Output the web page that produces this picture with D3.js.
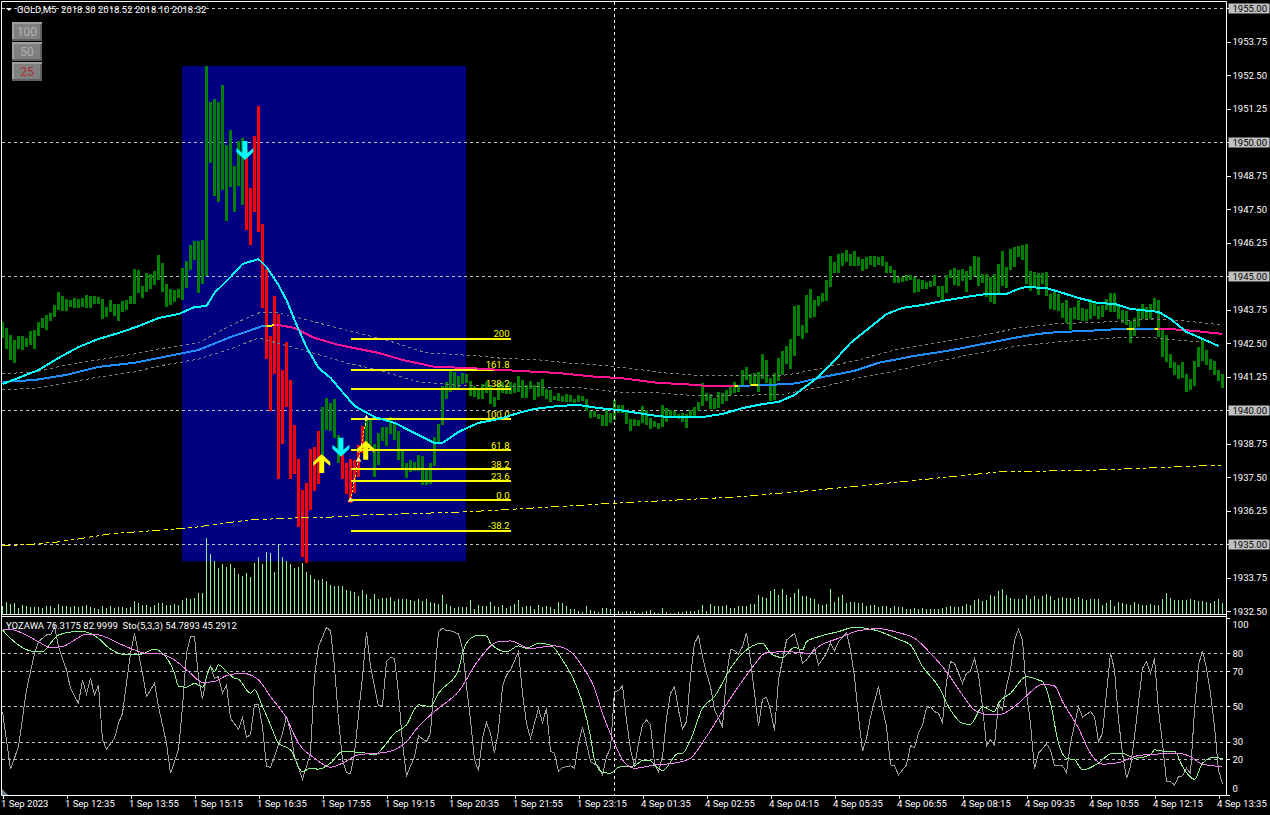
<!DOCTYPE html>
<html>
<head>
<meta charset="utf-8">
<script src="https://cdnjs.cloudflare.com/ajax/libs/d3/7.8.5/d3.min.js"></script>
<style>
body{margin:0;background:#000;overflow:hidden}
svg{display:block}
text{font-family:Roboto,"Liberation Sans",sans-serif;font-size:9.5px}
</style>
</head>
<body>
<svg id="c" width="1270" height="815"></svg>
<script>
//////////////////////////////////////////////////////////////// data
var title='GOLD,M5  2018.30 2018.52 2018.10 2018.32';
var subTitle='YOZAWA 76.3175 82.9999  Sto(5,3,3) 54.7893 45.2912';
var timeLabels=['1 Sep 2023','1 Sep 12:35','1 Sep 13:55','1 Sep 15:15','1 Sep 16:35','1 Sep 17:55','1 Sep 19:15','1 Sep 20:35','1 Sep 21:55','1 Sep 23:15','4 Sep 01:35','4 Sep 02:55','4 Sep 04:15','4 Sep 05:35','4 Sep 06:55','4 Sep 08:15','4 Sep 09:35','4 Sep 10:55','4 Sep 12:15','4 Sep 13:35'];
var timeBars=[0,16,32,48,64,80,96,112,128,144,160,176,192,208,224,240,256,272,288,304];
var priceTicks=[1955,1953.75,1952.5,1951.25,1950,1948.75,1947.5,1946.25,1945,1943.75,1942.5,1941.25,1940,1938.75,1937.5,1936.25,1935,1933.75,1932.5];
var priceGrid=[1955,1950,1945,1940,1935];
var subTicks=[100,80,70,50,30,20,0];
var subGrid=[80,70,50,30,20];
var buttons=['100','50','25'];
var crossBar=153;

var barHigh=[
1943.28,1943.06,1942.80,1942.61,1942.76,1942.76,1942.69,1942.95,1942.99,1943.28,
1943.43,1943.55,1943.62,1943.92,1944.40,1944.25,1944.14,1944.10,1944.18,1944.14,
1944.18,1944.29,1944.25,1944.25,1944.22,1944.14,1943.84,1944.10,1943.96,1943.96,
1944.07,1944.10,1944.25,1945.26,1945.22,1944.63,1945.11,1945.07,1945.19,1945.78,
1945.48,1944.70,1944.52,1944.48,1944.52,1945.30,1945.56,1946.16,1946.31,1946.31,
1946.34,1952.83,1951.49,1951.60,1951.49,1952.12,1949.89,1950.45,1949.11,1950.04,
1950.15,1949.70,1948.28,1950.22,1951.34,1946.94,1945.26,1942.76,1944.25,1943.58,
1941.49,1942.54,1941.12,1939.44,1938.17,1937.02,1937.28,1938.55,1938.62,1939.22,
1940.11,1940.45,1940.26,1940.41,1939.07,1938.32,1938.02,1938.17,1938.14,1938.70,
1939.41,1939.63,1939.63,1938.73,1939.14,1939.37,1939.37,1939.74,1939.52,1939.22,
1938.47,1938.02,1938.14,1938.06,1938.32,1938.29,1937.80,1938.02,1938.99,1939.48,
1940.90,1941.05,1941.46,1941.42,1941.27,1941.38,1941.34,1941.08,1940.90,1940.82,
1940.97,1941.05,1940.93,1940.49,1940.97,1941.05,1940.93,1941.05,1941.01,1941.27,
1941.12,1940.93,1941.08,1940.93,1941.05,1941.16,1940.79,1940.75,1940.52,1940.64,
1940.52,1940.60,1940.56,1940.41,1940.56,1940.52,1940.41,1939.96,1939.96,1939.85,
1939.81,1940.04,1939.89,1940.37,1940.19,1940.19,1939.93,1939.66,1939.66,1939.63,
1940.15,1940.00,1939.70,1939.59,1939.52,1940.19,1940.07,1940.00,1939.96,1939.85,
1939.89,1939.85,1940.00,1940.11,1940.30,1941.01,1940.64,1940.60,1940.45,1940.67,
1940.64,1940.75,1940.86,1941.05,1940.90,1941.49,1941.61,1941.34,1941.38,1941.42,
1942.09,1941.87,1941.20,1941.38,1941.94,1942.20,1942.39,1942.65,1943.88,1943.92,
1943.17,1944.29,1944.52,1944.10,1944.25,1944.37,1944.85,1945.75,1945.52,1945.82,
1945.86,1945.97,1945.82,1945.93,1945.71,1945.63,1945.71,1945.75,1945.75,1945.71,
1945.75,1945.52,1945.37,1945.22,1944.96,1944.96,1945.04,1945.04,1944.96,1944.89,
1944.85,1944.78,1944.81,1945.04,1944.63,1944.63,1945.04,1945.22,1945.30,1945.22,
1945.26,1945.19,1945.37,1945.75,1945.71,1945.07,1945.07,1944.96,1945.07,1945.45,
1945.93,1945.34,1946.01,1946.08,1946.12,1946.16,1946.19,1945.19,1945.15,1945.11,
1945.11,1945.15,1944.33,1944.40,1944.33,1943.99,1944.10,1943.81,1943.84,1944.10,
1943.81,1943.77,1944.14,1944.03,1943.88,1943.92,1944.14,1944.37,1944.37,1943.88,
1943.73,1943.69,1943.32,1943.43,1943.81,1943.96,1943.84,1943.96,1944.18,1944.10,
1942.99,1942.80,1942.09,1941.79,1941.68,1941.79,1941.34,1941.16,1941.83,1942.35,
1942.61,1942.24,1941.90,1941.83,1941.49,1941.34];
var barLow=[
1942.69,1942.28,1941.87,1941.76,1942.28,1942.24,1942.35,1942.43,1942.28,1942.76,
1943.06,1942.99,1943.32,1943.47,1943.73,1943.69,1943.69,1943.84,1943.81,1943.81,
1943.84,1943.81,1943.81,1943.96,1943.96,1943.40,1943.47,1943.66,1943.51,1943.32,
1943.66,1943.73,1943.96,1943.96,1944.37,1944.18,1944.40,1944.52,1944.66,1944.85,
1944.40,1943.84,1943.92,1944.03,1944.18,1944.10,1944.55,1945.22,1945.60,1944.37,
1944.70,1945.00,1949.22,1947.98,1947.76,1948.21,1947.05,1948.32,1947.39,1948.36,
1947.65,1946.72,1946.16,1947.39,1946.64,1943.81,1941.90,1939.96,1941.34,1937.43,
1938.73,1940.11,1937.43,1937.61,1935.64,1934.52,1934.29,1936.27,1936.98,1937.24,
1938.32,1939.26,1939.22,1938.96,1938.02,1937.43,1936.87,1936.53,1936.90,1937.50,
1938.40,1938.51,1938.70,1937.50,1937.95,1938.85,1938.66,1939.11,1938.88,1938.14,
1937.84,1937.47,1937.69,1937.72,1937.72,1937.20,1937.20,1937.24,1937.91,1938.77,
1939.44,1940.41,1940.67,1940.82,1940.79,1940.97,1941.01,1940.52,1940.49,1940.41,
1940.41,1940.64,1940.22,1940.11,1940.37,1940.64,1940.60,1940.60,1940.64,1940.67,
1940.45,1940.45,1940.79,1940.37,1940.49,1940.52,1940.41,1940.30,1940.37,1940.34,
1940.30,1940.30,1940.30,1940.26,1940.30,1940.34,1939.96,1939.70,1939.74,1939.66,
1939.41,1939.41,1939.52,1939.63,1939.89,1939.89,1939.48,1939.22,1939.41,1939.41,
1939.52,1939.44,1939.29,1939.37,1939.29,1939.37,1939.55,1939.70,1939.74,1939.66,
1939.55,1939.33,1939.70,1939.74,1939.96,1940.15,1940.34,1940.04,1940.04,1940.07,
1940.22,1940.34,1940.56,1940.64,1940.67,1940.86,1941.12,1940.97,1940.93,1940.67,
1941.16,1941.01,1940.34,1940.37,1941.08,1941.31,1941.72,1941.53,1942.02,1942.76,
1942.65,1942.87,1943.43,1943.47,1943.88,1944.03,1944.07,1944.59,1945.11,1945.11,
1945.37,1945.52,1945.37,1945.37,1945.37,1945.19,1945.26,1945.41,1945.34,1945.41,
1945.37,1945.11,1945.11,1944.74,1944.74,1944.78,1944.81,1944.85,1944.37,1944.40,
1944.52,1944.52,1944.59,1944.63,1944.22,1944.10,1944.37,1944.93,1944.66,1944.63,
1944.81,1944.40,1944.85,1945.00,1944.63,1944.74,1944.22,1944.03,1943.96,1944.33,
1944.63,1944.55,1945.22,1945.34,1945.71,1945.60,1944.70,1944.44,1944.55,1944.29,
1944.70,1944.25,1943.77,1943.73,1943.69,1943.43,1943.25,1942.99,1943.40,1943.36,
1943.32,1943.32,1943.40,1943.51,1943.40,1943.47,1943.73,1943.66,1943.66,1943.40,
1943.25,1943.17,1942.50,1942.76,1943.10,1943.40,1943.40,1943.40,1943.73,1942.72,
1941.98,1941.79,1941.57,1941.31,1941.16,1941.20,1940.67,1940.75,1940.90,1941.61,
1941.83,1941.68,1941.49,1941.31,1941.08,1940.82];
var redBars=[[61,79],[85,90]];

var volumes=[
8,12,10,11,6,9,8,7,7,7,6,8,8,6,10,8,8,7,8,7,
8,9,7,6,5,8,6,8,6,7,7,6,7,13,11,9,9,7,9,11,
11,9,9,10,9,14,16,15,16,21,21,76,60,53,46,50,47,50,46,40,
38,41,37,51,57,50,62,61,42,70,57,53,50,46,47,51,42,39,35,34,
35,33,29,28,28,28,24,23,22,18,24,20,15,20,15,16,16,17,13,15,
15,15,14,13,15,13,15,12,11,10,19,10,8,6,7,7,7,
14,5,9,8,8,12,8,7,9,6,8,10,14,7,8,8,5,9,7,8,
7,5,12,11,8,5,5,3,2,8,4,3,2,6,6,5,4,3,2,3,
3,3,1,2,3,4,2,1,6,2,1,1,2,2,3,3,3,4,9,3,
10,8,8,8,9,6,6,8,8,8,10,10,19,17,16,23,25,19,25,19,
17,21,25,18,18,16,15,10,9,10,25,12,17,19,11,12,12,11,11,8,
9,9,7,8,8,6,8,7,7,5,5,6,5,6,5,5,5,5,6,7,
8,7,7,8,10,9,14,15,13,14,19,18,23,25,19,16,15,15,15,19,
15,18,15,18,20,18,14,16,17,16,16,15,17,15,14,15,15,15,9,11,
14,8,12,11,10,9,12,10,9,9,10,9,9,15,21,16,14,14,14,14,
15,14,13,13,12,11,13,15,11];

var fastMa=[[0,1940.97],[4,1941.20],[9,1941.49],[14,1941.94],[19,1942.35],[24,1942.65],[29,1942.87],[34,1943.13],[39,1943.43],[44,1943.58],[48,1943.84],[51,1943.88],[53,1944.37],[57,1944.96],[60,1945.45],[64,1945.63],[66,1945.34],[69,1944.66],[71,1944.10],[73,1943.36],[76,1942.35],[79,1941.57],[82,1941.20],[85,1940.67],[88,1940.15],[93,1939.74],[98,1939.52],[104,1939.07],[108,1938.77],[110,1938.77],[114,1939.18],[119,1939.52],[124,1939.66],[129,1939.89],[133,1940.04],[139,1940.15],[144,1940.19],[149,1940.07],[154,1940.00],[157,1939.93],[162,1939.81],[166,1939.74],[175,1939.74],[180,1939.85],[185,1940.07],[190,1940.22],[194,1940.30],[198,1940.56],[203,1941.12],[207,1941.68],[212,1942.50],[217,1943.10],[221,1943.58],[225,1943.81],[230,1943.92],[235,1944.07],[241,1944.22],[246,1944.33],[251,1944.33],[254,1944.52],[256,1944.59],[261,1944.55],[265,1944.37],[269,1944.18],[274,1943.99],[278,1943.96],[282,1943.77],[289,1943.66],[292,1943.40],[296,1942.91],[299,1942.72],[304,1942.39]];
var slowMa=[[0,1941.05],[8,1941.12],[16,1941.31],[24,1941.61],[33,1941.76],[39,1941.94],[49,1942.24],[57,1942.72],[65,1943.13],[69,1943.17],[73,1943.06],[78,1942.69],[84,1942.43],[94,1942.13],[100,1941.87],[108,1941.61],[116,1941.57],[129,1941.46],[139,1941.38],[149,1941.23],[154,1941.20],[164,1941.01],[170,1940.97],[176,1940.90],[184,1940.90],[190,1940.93],[197,1940.97],[199,1941.01],[205,1941.23],[213,1941.46],[219,1941.76],[228,1942.02],[236,1942.20],[244,1942.43],[254,1942.72],[259,1942.84],[264,1942.91],[271,1942.95],[279,1943.02],[288,1943.02],[292,1943.02],[298,1942.95],[305,1942.84]];
var slowMaColors=[[0,66,'#1e90ff'],[66,68,'#ffff00'],[68,183,'#ff1493'],[183,184,'#ffff00'],[184,187,'#1e90ff'],[187,189,'#ffff00'],[189,281,'#1e90ff'],[281,283,'#ffff00'],[283,288,'#1e90ff'],[288,289,'#ffff00'],[289,305,'#ff1493']];
var upperBand=[[0,1941.35],[8,1941.42],[16,1941.68],[24,1941.87],[33,1942.09],[39,1942.28],[49,1942.50],[55,1943.0],[61,1943.43],[64,1943.62],[69,1943.62],[76,1943.36],[89,1942.87],[96,1942.61],[106,1942.13],[119,1942.02],[124,1941.94],[134,1941.87],[141,1941.76],[149,1941.68],[158,1941.53],[166,1941.38],[175,1941.27],[184,1941.27],[194,1941.27],[199,1941.38],[205,1941.57],[214,1941.87],[223,1942.24],[233,1942.50],[244,1942.76],[254,1943.06],[263,1943.21],[275,1943.28],[288,1943.40],[296,1943.32],[305,1943.17]];
var lowerBand=[[0,1940.75],[8,1940.82],[16,1941.01],[24,1941.23],[33,1941.42],[39,1941.64],[49,1941.90],[57,1942.28],[64,1942.69],[75,1942.24],[86,1941.76],[94,1941.49],[104,1941.05],[113,1940.93],[124,1940.90],[134,1940.86],[145,1940.82],[154,1940.67],[162,1940.67],[171,1940.56],[179,1940.52],[188,1940.56],[194,1940.56],[205,1940.86],[214,1941.20],[222,1941.42],[233,1941.79],[244,1942.13],[254,1942.39],[264,1942.54],[278,1942.69],[288,1942.69],[299,1942.54]];
var longMa=[[0,1934.93],[8,1935.00],[14,1935.08],[19,1935.19],[27,1935.38],[33,1935.45],[41,1935.53],[49,1935.64],[56,1935.79],[62,1935.90],[73,1935.97],[83,1936.01],[91,1936.09],[99,1936.12],[108,1936.16],[116,1936.20],[129,1936.31],[154,1936.53],[184,1936.76],[212,1937.13],[249,1937.69],[274,1937.76],[305,1937.95]];

var fibLow=1936.64, fibHigh=1939.65, fibFrom=87, fibTo=127;
var fibLevels=[200,161.8,138.2,100,61.8,38.2,23.6,0,-38.2];
var fibNames=['200','161.8','138.2','100.0','61.8','38.2','23.6','0.0','-38.2'];
var fibTrend=[[87,1936.64],[89,1938.14],[91,1939.70]];
var zoneBars=[45,115.9], zonePrices=[1952.83,1934.35];
var upArrows=[[79.8,1938.36],[90.8,1938.85]];
var downArrows=[[60.6,1950.04],[84.6,1938.96]];

var yozawa=[[0,47],[2,14.4],[4,27.2],[6,59.3],[7,69.6],[8,80],[9,86.6],[11,90.4],[12,90.4],[13,95.1],[14,83.8],[16,70.6],[17,60.2],[19,51.7],[20,64.9],[21,57],[22,65.9],[23,56.4],[24,62.1],[25,31],[26,25.7],[28,31.9],[29,40.4],[30,46],[32,80],[33,91.3],[35,68.7],[36,55.5],[38,63],[39,49.8],[41,29.1],[42,12.1],[44,25.3],[45,49.8],[46,80],[47,89.4],[48,89.4],[49,66.8],[50,54],[51,66.8],[52,72.5],[53,65.9],[54,66.8],[55,57.4],[56,62.1],[57,43.2],[59,37],[60,43.8],[61,32.5],[62,33.8],[63,51.2],[64,50.8],[65,38.5],[66,15.9],[67,15.5],[68,21.5],[70,34.7],[71,44.2],[72,35.7],[73,21.5],[75,8.7],[77,23.4],[78,66.8],[79,83.8],[81,94.7],[82,92.8],[83,72.5],[84,42.3],[85,19.7],[86,12.5],[87,11.7],[88,23.4],[90,66.8],[91,92.3],[92,72.5],[94,50.2],[95,50.2],[96,75.3],[97,77.7],[98,77.2],[99,57.4],[100,29.1],[101,10.6],[103,21.5],[104,33.2],[106,30],[107,34.7],[108,66.8],[109,92.3],[110,94.2],[111,92.8],[112,92.8],[114,91],[115,82.8],[116,61.2],[117,42.3],[118,19.7],[119,13.6],[120,31.9],[121,40.8],[122,34.7],[123,23.4],[124,36.6],[125,61.2],[126,67.7],[127,70.6],[129,80.9],[130,57.4],[131,40.4],[132,31.9],[133,40.4],[134,48.9],[135,40.8],[136,48.9],[137,24.4],[138,23.4],[139,13],[140,15.3],[142,16.3],[143,14.9],[144,29.1],[145,38.1],[146,29.1],[147,18.7],[149,15.9],[150,11.2],[151,21.5],[152,26.3],[153,58.3],[154,58.9],[155,61.7],[156,42.3],[157,25.3],[158,15.9],[159,29.1],[160,39.5],[161,42.3],[162,39.5],[163,17.8],[164,12.7],[165,21.5],[166,43.2],[167,57.4],[168,61.2],[169,47.9],[170,37],[171,41.3],[172,66.8],[173,85.7],[174,90],[175,78.1],[176,68.7],[177,61.2],[178,47.9],[180,38.5],[181,66.8],[182,82.3],[183,81.5],[184,79.6],[185,83.8],[186,91.7],[187,76.2],[188,57.4],[189,38.9],[190,54],[191,55.1],[192,47.9],[193,36.2],[194,64.9],[195,76.2],[196,87.5],[198,91.3],[199,83.8],[200,74.4],[201,76.2],[203,82.8],[204,73.4],[206,80],[207,85.7],[208,81.5],[209,86.6],[211,91.7],[212,81.9],[213,66.8],[214,44.2],[215,24.6],[216,31.9],[217,44.2],[219,61.2],[220,48.9],[221,38.5],[222,16.8],[223,16.3],[224,11.2],[226,16.8],[227,27.8],[228,26.6],[229,34.7],[230,39.5],[231,48.9],[232,49.8],[233,47],[234,46],[235,40.8],[236,64],[237,75.3],[238,74.4],[240,63],[241,68.7],[242,70.2],[243,77.2],[244,67.7],[245,49.8],[246,27.6],[247,31],[248,28.1],[249,51.7],[250,47.9],[251,61.2],[252,70.6],[253,87.5],[254,93.6],[255,87.5],[256,57.4],[257,40.4],[258,14.4],[259,23.4],[261,28.7],[262,25.3],[263,16.3],[265,16.3],[266,12.5],[267,29.1],[269,49.8],[270,43.8],[272,47],[273,44.2],[274,30],[275,34.7],[276,57.4],[277,80.4],[278,70.6],[279,42.3],[280,23.4],[281,9.3],[282,15.9],[283,32.9],[285,71.5],[286,75.3],[287,68.7],[288,77.2],[289,47.9],[290,29.1],[291,7.4],[292,7.4],[293,5.5],[294,10.2],[295,10.6],[296,14.9],[297,12.1],[298,47.9],[299,73.4],[300,81.5],[301,71.5],[302,57.4],[303,38.5],[304,14],[305,6]];
var stochMain=[[0,93.2],[2,88.5],[4,84.7],[8,81],[10,81],[12,85.7],[14,90.4],[18,92.3],[20,92.3],[24,88.5],[26,84.2],[30,79.4],[34,79.1],[38,82.3],[40,80],[43,68.7],[44,61.5],[46,60.8],[48,63],[50,60.8],[52,72.5],[53,69.6],[54,73.4],[56,69.6],[58,65.9],[59,65.3],[62,57.4],[63,59.3],[65,49.8],[67,39.5],[69,29.1],[72,25.3],[75,13],[77,14.9],[79,14.4],[82,17.8],[85,24.4],[90,23.8],[93,22.5],[95,26.3],[98,34.7],[101,39.5],[104,50.8],[107,49.8],[109,57.4],[114,70.6],[115,80],[117,88.5],[119,90.2],[121,89.8],[122,85.7],[126,80.9],[129,84.2],[131,82.8],[134,85.7],[137,84.7],[140,76.2],[143,64],[145,51.7],[147,32.9],[148,19.7],[150,12.7],[152,12.1],[154,15.5],[158,16.3],[160,19.3],[162,19.3],[163,16.8],[165,13.6],[169,23.4],[170,23.4],[172,31],[175,48.9],[178,55.5],[182,71.5],[185,80],[190,85.7],[192,80],[195,77.6],[198,83.4],[200,81.9],[201,86.6],[204,89.4],[209,92.3],[213,94.7],[218,93.2],[224,87.9],[227,84.7],[230,72.5],[234,61.2],[237,47.9],[240,40.4],[242,39.8],[245,49.8],[248,47],[249,51.7],[252,57.4],[256,66.8],[259,64.9],[260,64],[262,51.7],[264,29.1],[266,20.6],[268,19.7],[270,14],[274,17.8],[277,23],[280,23.4],[283,20.6],[287,22.5],[288,25.3],[291,24.4],[293,24.4],[295,15.9],[298,8.7],[300,17.8],[303,21.2],[305,20.2]];
var stochSignal=[[0,93.6],[2,93.6],[5,91.3],[9,86.6],[12,83.2],[15,83.8],[18,87.5],[21,90.8],[24,90.4],[29,85.7],[33,81.9],[36,80],[39,80],[43,76.2],[47,68.7],[50,63.6],[53,64],[56,67.4],[60,68.7],[64,64.9],[67,55.5],[71,43.2],[74,29.1],[78,20.6],[82,15.5],[85,17.8],[89,22.5],[96,24],[101,30],[104,38.5],[109,48.9],[114,58.3],[119,76.2],[124,86.6],[127,87],[132,82.8],[138,84.2],[142,80.9],[145,72.5],[148,60.2],[150,46],[153,29.1],[155,19.7],[158,14.9],[163,16.8],[168,17.8],[172,20.6],[176,32.9],[182,54.5],[187,70.6],[191,80.4],[196,80.9],[202,80],[204,83.8],[209,88.5],[214,92.8],[219,94],[224,91.7],[228,88.5],[232,80],[236,69.6],[240,56.4],[243,47.9],[247,45.1],[249,45.1],[253,49.8],[256,55.9],[260,62.5],[263,61.5],[265,52.7],[269,37.6],[272,23.4],[275,17.2],[279,18.1],[284,22.1],[289,23],[294,23.4],[297,21.5],[300,17.2],[305,15.9]];

//////////////////////////////////////////////////////////////// scales
var svg=d3.select('#c');
var x=d3.scaleLinear().domain([0,305]).range([2.5,1222.5]);
var y=d3.scaleLinear().domain([1950,1940]).range([142,410]);
var ySub=d3.scaleLinear().domain([0,100]).range([794.6,618]);
var yVol=d3.scaleLinear().domain([0,76]).range([614,538]);
function line(yy,curve){
	return d3.line().x(function(d){return x(d[0]);}).y(function(d){return yy(d[1]);}).curve(curve||d3.curveLinear);
}
function isRed(i){
	return redBars.some(function(r){return i>=r[0]&&i<=r[1];});
}
function path(g,data,gen,color,w,dash){
	return g.append('path').datum(data).attr('d',gen).attr('fill','none').attr('stroke',color)
	.attr('stroke-width',w).attr('stroke-dasharray',dash||null).attr('shape-rendering','crispEdges');
}
svg.append('clipPath').attr('id','mainClip').append('rect').attr('x',2).attr('y',2).attr('width',1224).attr('height',612);
svg.append('clipPath').attr('id','subClip').append('rect').attr('x',2).attr('y',617).attr('width',1224).attr('height',178);

//////////////////////////////////////////////////////////////// main window
var main=svg.append('g').attr('clip-path','url(#mainClip)');
main.append('rect').attr('x',x(zoneBars[0])-.5).attr('y',y(zonePrices[0])).attr('width',x(zoneBars[1])-x(zoneBars[0])+.5)
	.attr('height',y(zonePrices[1])-y(zonePrices[0])).attr('fill','#000080');
main.selectAll('.grid').data(priceGrid).enter().append('line').attr('class','grid')
	.attr('x1',2).attr('x2',1226).attr('y1',function(d){return Math.round(y(d))+.5;}).attr('y2',function(d){return Math.round(y(d))+.5;})
	.attr('stroke','#c0c0c0').attr('stroke-dasharray','3,3');
main.selectAll('.vol').data(volumes).enter().append('rect').attr('class','vol')
	.attr('x',function(d,i){return Math.floor(x(i));}).attr('width',1)
	.attr('y',function(d){return yVol(d);}).attr('height',function(d){return yVol(0)-yVol(d);})
	.attr('fill','#90ee90');
main.selectAll('.bar').data(barHigh).enter().append('rect').attr('class','bar')
	.attr('x',function(d,i){return x(i)-1.5;}).attr('width',3)
	.attr('y',function(d){return Math.round(y(d));})
	.attr('height',function(d,i){return Math.round(y(barLow[i]))-Math.round(y(d));})
	.attr('fill',function(d,i){return isRed(i)?'#ff0000':'#008000';});

path(main,upperBand,line(y),'#808080',1,'3,3');
path(main,lowerBand,line(y),'#808080',1,'3,3');
path(main,longMa,line(y),'#ffff00',1,'8,4,4,3,3,3');

// fibo levels
var fibY=function(l){return y(fibLow+(fibHigh-fibLow)*l/100);};
main.selectAll('.fib').data(fibLevels).enter().append('line').attr('class','fib')
	.attr('x1',x(fibFrom)).attr('x2',x(fibTo)).attr('y1',fibY).attr('y2',fibY)
	.attr('stroke','#ffff00').attr('stroke-width',2).attr('shape-rendering','crispEdges');
main.selectAll('.fibt').data(fibLevels).enter().append('text').attr('class','fibt')
	.attr('x',x(fibTo)-1).attr('y',function(d){return fibY(d)-1.5;}).attr('text-anchor','end').attr('fill','#ffff00')
	.text(function(d,i){return fibNames[i];});
path(main,fibTrend,line(y),'#ffff00',1,'2,2');
main.selectAll('.fibm').data(fibTrend).enter().append('path').attr('class','fibm')
	.attr('d',d3.symbol().type(d3.symbolTriangle).size(14))
	.attr('transform',function(d){return 'translate('+x(d[0])+','+y(d[1])+')';}).attr('fill','#ffff80');

// moving averages
svg.selectAll('.segClip').data(slowMaColors).enter().append('clipPath').attr('class','segClip')
	.attr('id',function(d,i){return 'seg'+i;}).append('rect')
	.attr('x',function(d){return x(d[0]);}).attr('width',function(d){return x(d[1])-x(d[0]);}).attr('y',0).attr('height',614);
slowMaColors.forEach(function(s,i){
	path(main.append('g').attr('clip-path','url(#seg'+i+')'),slowMa,line(y),s[2],2);
});
path(main,fastMa,line(y),'#00ffff',2);

// arrows
var downShape='M0,19L8.5,11V7L2.5,12V0H-2.5V12L-8.5,7V11Z', upShape='M0,0L8.5,8V12L2.5,7V19H-2.5V7L-8.5,12V8Z';
main.selectAll('.dn').data(downArrows).enter().append('path').attr('class','dn').attr('d',downShape)
	.attr('transform',function(d){return 'translate('+x(d[0])+','+y(d[1])+')';}).attr('fill','#00ffff');
main.selectAll('.up').data(upArrows).enter().append('path').attr('class','up').attr('d',upShape)
	.attr('transform',function(d){return 'translate('+x(d[0])+','+y(d[1])+')';}).attr('fill','#ffff00');

//////////////////////////////////////////////////////////////// sub window
var sub=svg.append('g').attr('clip-path','url(#subClip)');
sub.selectAll('.sgrid').data(subGrid).enter().append('line').attr('class','sgrid')
	.attr('x1',2).attr('x2',1226).attr('y1',function(d){return Math.round(ySub(d))+.5;}).attr('y2',function(d){return Math.round(ySub(d))+.5;})
	.attr('stroke','#c0c0c0').attr('stroke-dasharray','3,3');
path(sub,yozawa,line(ySub),'#a0a0a0',1);
path(sub,stochMain,line(ySub,d3.curveMonotoneX),'#90ee90',1);
path(sub,stochSignal,line(ySub,d3.curveMonotoneX),'#ee82ee',1);
sub.append('path').attr('d','M2,789L8,795H2Z').attr('fill','#708090');

//////////////////////////////////////////////////////////////// crosshair, frame, axes
svg.append('line').attr('x1',Math.floor(x(crossBar))+.5).attr('x2',Math.floor(x(crossBar))+.5).attr('y1',2).attr('y2',795)
	.attr('stroke','#fff').attr('stroke-dasharray','3,3');
[[1.5,1.5,1226.5,1.5],[1.5,1.5,1.5,795.5],[1226.5,1.5,1226.5,795.5],[1.5,614.5,1226.5,614.5],[1.5,616.5,1226.5,616.5],[1.5,795.5,1226.5,795.5]].forEach(function(l){
	svg.append('line').attr('x1',l[0]).attr('y1',l[1]).attr('x2',l[2]).attr('y2',l[3]).attr('stroke','#fff');
});

var yAxis=svg.append('g').attr('transform','translate(1226.5,0)')
	.call(d3.axisRight(y).tickValues(priceTicks).tickFormat(d3.format('.2f')).tickSize(4).tickPadding(2));
var yaSub=svg.append('g').attr('transform','translate(1226.5,0)')
	.call(d3.axisRight(ySub).tickValues(subTicks).tickFormat(d3.format('d')).tickSize(3).tickPadding(3));
var xAxis=svg.append('g').attr('transform','translate(0,795.5)')
	.call(d3.axisBottom(x).tickValues(timeBars).tickFormat(function(d,i){return timeLabels[i];}).tickSize(3).tickPadding(2));
[yAxis,yaSub,xAxis].forEach(function(a){
	a.select('.domain').remove();
	a.selectAll('line').attr('stroke','#fff').attr('shape-rendering','crispEdges');
	a.selectAll('text').attr('fill','#fff').style('font-size','9.5px').style('font-family','Roboto,"Liberation Sans",sans-serif');
});
xAxis.selectAll('text').attr('text-anchor','start').attr('x',-2);
// edge labels of the sub window sit inside it
yaSub.selectAll('.tick').filter(function(d){return d==100;}).select('text').attr('dy','.32em').attr('y',6);
yaSub.selectAll('.tick').filter(function(d){return d==0;}).select('text').attr('dy','.32em').attr('y',-6);
// round prices are boxed
yAxis.selectAll('.tick').filter(function(d){return priceGrid.indexOf(d)>=0;}).each(function(){
	var t=d3.select(this);
	t.insert('rect','text').attr('x',2).attr('y',-5).attr('width',41).attr('height',10).attr('fill','#c0c0c0');
	t.select('text').attr('fill','#000');
});

//////////////////////////////////////////////////////////////// texts
svg.append('path').attr('d','M6,8H12L9,11Z').attr('fill','#fff');
svg.append('text').attr('x',17).attr('y',13).attr('fill','#fff').style('white-space','pre').text(title);
svg.append('text').attr('x',6).attr('y',629).attr('fill','#fff').style('white-space','pre').text(subTitle);

var btn=svg.selectAll('.btn').data(buttons).enter().append('g').attr('class','btn')
	.attr('transform',function(d,i){return 'translate(12,'+(22+i*20)+')';});
btn.append('rect').attr('width',30).attr('height',19).attr('fill','#a0a0a0');
btn.append('path').attr('d','M2,2H30V19H0V17H2Z').attr('fill','#606060');
btn.append('rect').attr('x',2).attr('y',2).attr('width',26).attr('height',15).attr('fill','#808080');
btn.append('text').attr('x',15).attr('y',14).attr('text-anchor','middle').style('font-size','12px')
	.attr('fill',function(d){return d=='25'?'#b03030':'#b0b0b0';}).text(function(d){return d;});
</script>
</body>
</html>
